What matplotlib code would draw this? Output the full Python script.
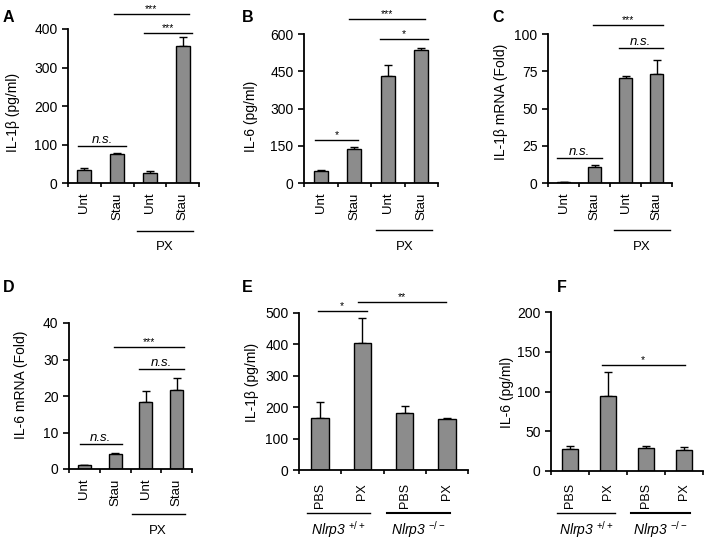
import matplotlib
matplotlib.use("Agg")
import matplotlib.pyplot as plt
import matplotlib.transforms as mtransforms
import numpy as np

plt.rcParams['font.family'] = ['Liberation Sans', 'DejaVu Sans']
plt.rcParams['mathtext.fontset'] = 'custom'
plt.rcParams['mathtext.rm'] = 'Liberation Sans'
plt.rcParams['mathtext.it'] = 'Liberation Sans:italic'

# data
stau_labels = ['Unt', 'Stau', 'Unt', 'Stau']
mouse_labels = ['PBS', 'PX', 'PBS', 'PX']

a_vals = [34, 76, 27, 355]
a_err = [4, 3, 4, 24]
b_vals = [47, 138, 429, 534]
b_err = [7, 8, 47, 9]
c_vals = [0.7, 10.5, 70.2, 73.2]
c_err = [0.3, 1.5, 1.4, 9.1]
d_vals = [1.0, 4.1, 18.4, 21.7]
d_err = [0.2, 0.3, 3.1, 3.2]
e_vals = [167, 404, 183, 162]
e_err = [48, 80, 22, 4]
f_vals = [28, 94, 29.5, 27]
f_err = [4, 30, 2.5, 3.7]

W, H = 704, 541
fig = plt.figure(figsize=(W / 100, H / 100), dpi=100)


def make_ax(x0, y0, x1, y1):
    # pixel box -> figure fraction
    return fig.add_axes([x0 / W, 1 - y1 / H, (x1 - x0) / W, (y1 - y0) / H])


def bars(ax, vals, errs, labels, ymax, step, label_pad=7, label_size=9.5):
    x = np.arange(len(vals))
    ax.bar(x, vals, width=0.42, color='#8c8c8c', edgecolor='black', linewidth=1.0, zorder=2)
    ax.errorbar(x, vals, yerr=[np.zeros(len(errs)), errs], fmt='none', ecolor='black',
                elinewidth=1.0, capsize=3, capthick=1.0, zorder=1)
    ax.set_xlim(-0.5, len(vals) - 0.5)
    ax.set_ylim(0, ymax)
    ax.set_yticks(np.arange(0, ymax + 1e-9, step))
    ax.set_xticks(x)
    ax.set_xticklabels(labels, rotation=90, fontsize=label_size)
    ax.set_xticks(np.arange(-0.5, len(vals)), minor=True)
    ax.tick_params(axis='x', which='major', length=0, pad=label_pad)
    ax.tick_params(axis='x', which='minor', length=3, width=1.2, direction='out')
    ax.tick_params(axis='y', length=4, width=1.2, labelsize=10, pad=3.5)
    for s in ['top', 'right']:
        ax.spines[s].set_visible(False)
    for s in ['left', 'bottom']:
        ax.spines[s].set_linewidth(1.3)


def sig(ax, x0, x1, y, txt, italic=False):
    ax.plot([x0, x1], [y, y], color='black', lw=1.0, clip_on=False)
    if italic:
        ax.text((x0 + x1) / 2, y, txt, ha='center', va='bottom', fontsize=9.5,
                style='italic', clip_on=False)
    else:
        ax.text((x0 + x1) / 2, y, txt, ha='center', va='bottom', fontsize=7.5, clip_on=False)


def group(ax, x0, x1, yl, yt, txt, lw=1.0, size=9.5, italic=False):
    tr = mtransforms.blended_transform_factory(ax.transData, ax.transAxes)
    ax.plot([x0, x1], [yl, yl], color='black', lw=lw, transform=tr, clip_on=False)
    ax.text((x0 + x1) / 2, yt, txt, ha='center', va='center', fontsize=size,
            style='italic' if italic else 'normal', transform=tr)


def ftext(x, y, s, **kw):
    fig.text(x / W, 1 - y / H, s, **kw)


# A
ax = make_ax(68, 29, 199, 183)
bars(ax, a_vals, a_err, stau_labels, 400, 100)
sig(ax, -0.18, 1.28, 96, 'n.s.', italic=True)
sig(ax, 0.89, 3.2, 440, '***')
sig(ax, 1.82, 3.3, 390, '***')
group(ax, 1.6, 3.31, -0.31, -0.415, 'PX')
ftext(13, 112, 'IL-1β (pg/ml)', rotation=90, ha='center', va='center', fontsize=10)
ftext(8, 18, 'A', ha='center', va='center', fontsize=11.5, weight='bold')

# B
ax = make_ax(304, 34, 438, 183)
bars(ax, b_vals, b_err, stau_labels, 600, 150)
sig(ax, -0.17, 1.12, 174, '*')
sig(ax, 0.85, 3.1, 660, '***')
sig(ax, 1.78, 3.2, 580, '*')
group(ax, 1.66, 3.33, -0.315, -0.43, 'PX')
ftext(251, 116, 'IL-6 (pg/ml)', rotation=90, ha='center', va='center', fontsize=10)
ftext(248, 18, 'B', ha='center', va='center', fontsize=11.5, weight='bold')

# C
ax = make_ax(548, 34, 672, 183)
bars(ax, c_vals, c_err, stau_labels, 100, 25)
sig(ax, -0.21, 1.24, 16.8, 'n.s.', italic=True)
sig(ax, 0.95, 3.2, 105.8, '***')
sig(ax, 1.79, 3.2, 90.4, 'n.s.', italic=True)
group(ax, 1.62, 3.42, -0.315, -0.43, 'PX')
ftext(501, 102, 'IL-1β mRNA (Fold)', rotation=90, ha='center', va='center', fontsize=10)
ftext(498, 17, 'C', ha='center', va='center', fontsize=11.5, weight='bold')

# D
ax = make_ax(69, 323, 192, 469)
bars(ax, d_vals, d_err, stau_labels, 40, 10)
sig(ax, -0.15, 1.21, 6.8, 'n.s.', italic=True)
sig(ax, 0.97, 3.25, 33.3, '***')
sig(ax, 1.79, 3.25, 27.4, 'n.s.', italic=True)
group(ax, 1.54, 3.26, -0.308, -0.425, 'PX')
ftext(21, 385, 'IL-6 mRNA (Fold)', rotation=90, ha='center', va='center', fontsize=10)
ftext(9, 287, 'D', ha='center', va='center', fontsize=11.5, weight='bold')

# E
wt = r'Nlrp3 $^{+/+}$'
ko = r'Nlrp3 $^{-/-}$'
ax = make_ax(299, 313, 468, 470)
bars(ax, e_vals, e_err, mouse_labels, 500, 100, label_pad=9.5, label_size=9)
sig(ax, -0.06, 1.1, 505, '*')
sig(ax, 0.89, 2.97, 535, '**')
group(ax, -0.32, 1.17, -0.274, -0.382, wt, size=10, italic=True)
group(ax, 1.58, 3.08, -0.274, -0.382, ko, lw=1.5, size=10, italic=True)
ftext(252, 382, 'IL-1β (pg/ml)', rotation=90, ha='center', va='center', fontsize=10)
ftext(247, 287, 'E', ha='center', va='center', fontsize=11.5, weight='bold')

# F
ax = make_ax(551, 312, 703, 471)
bars(ax, f_vals, f_err, mouse_labels, 200, 50, label_pad=8.5, label_size=9)
sig(ax, 0.84, 3.02, 133.5, '*')
group(ax, -0.34, 1.19, -0.264, -0.37, wt, size=10, italic=True)
group(ax, 1.61, 3.15, -0.264, -0.37, ko, lw=1.5, size=10, italic=True)
ftext(507, 392, 'IL-6 (pg/ml)', rotation=90, ha='center', va='center', fontsize=10)
ftext(562, 287, 'F', ha='center', va='center', fontsize=11.5, weight='bold')

plt.savefig('out.png', dpi=100)
